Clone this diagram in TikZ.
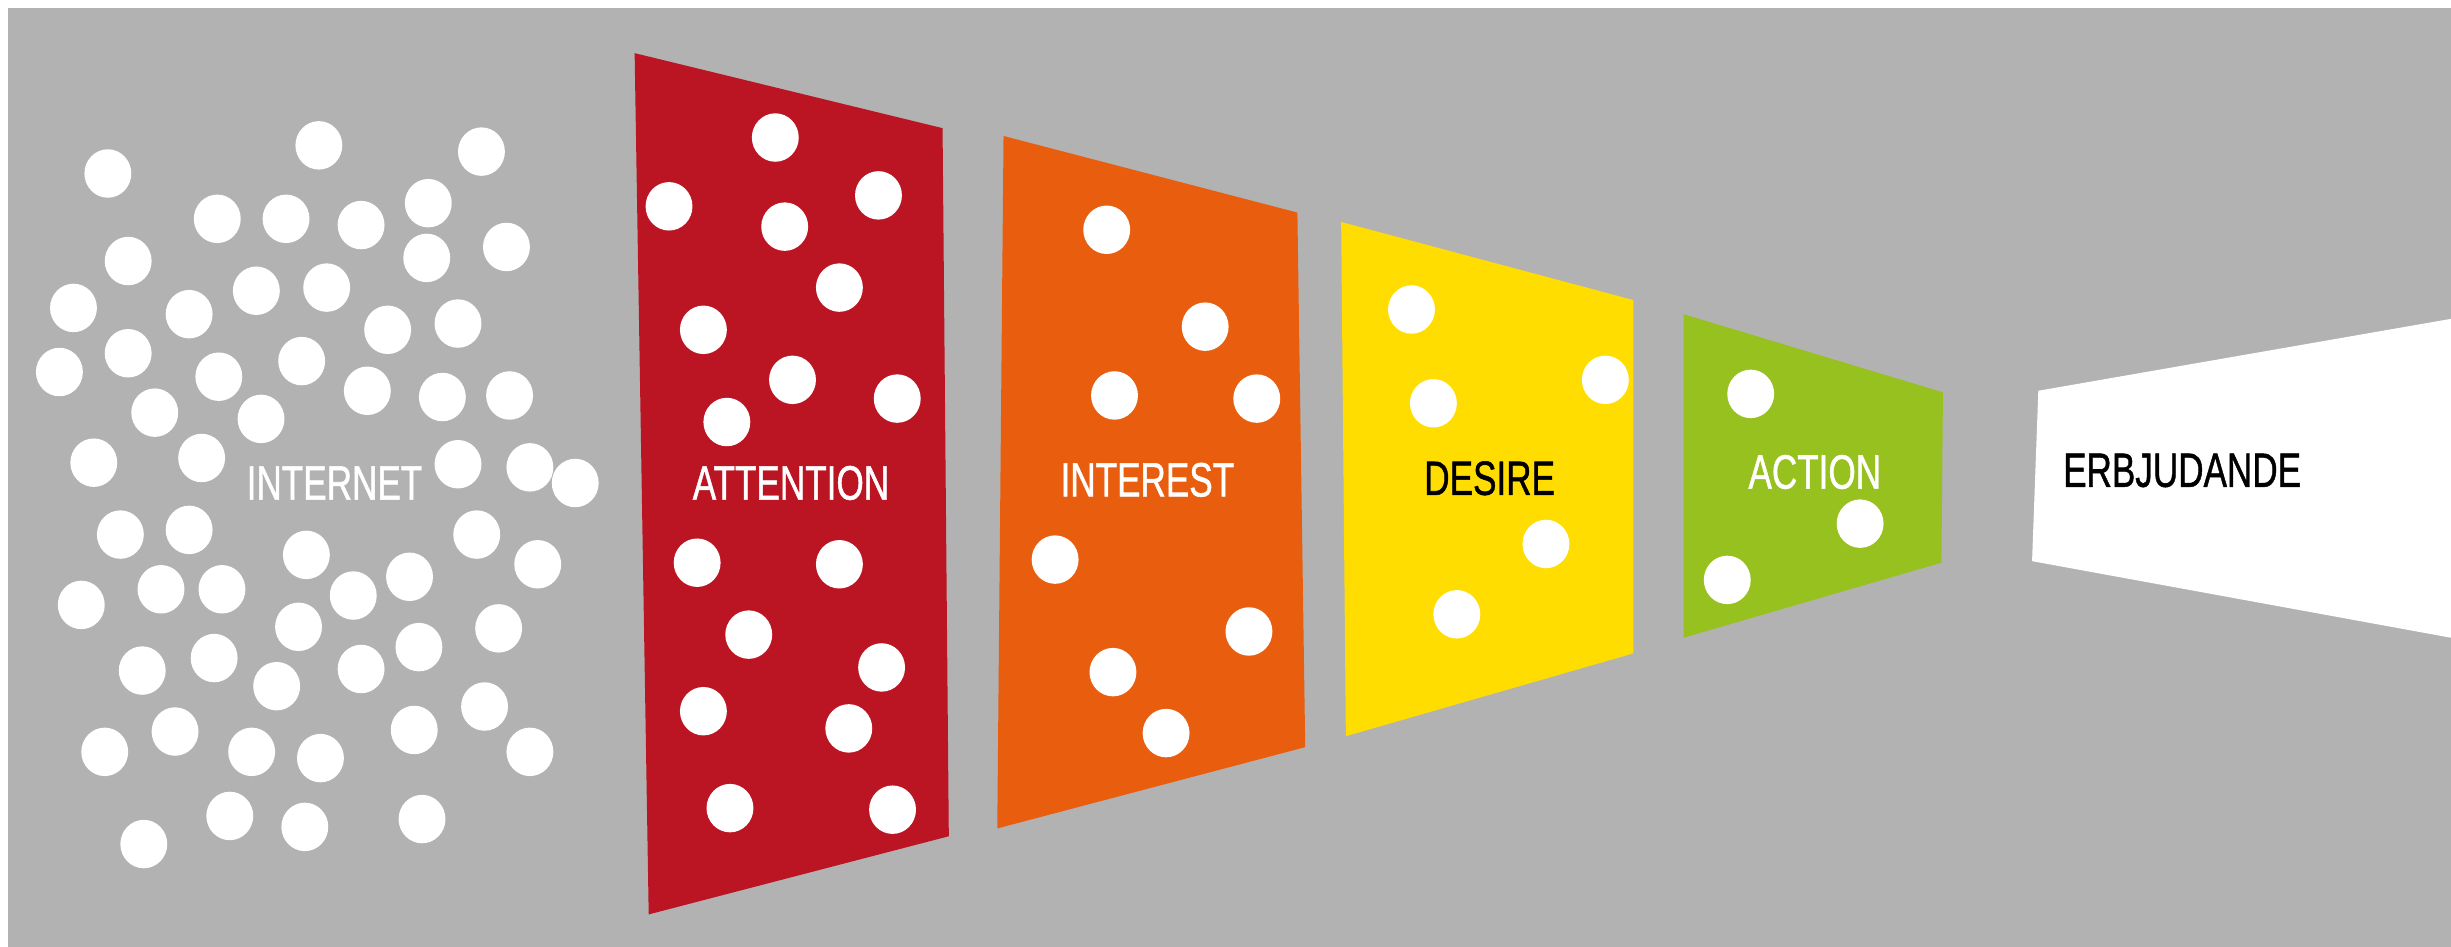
\documentclass[tikz,border=0pt]{standalone}
\usepackage{fontspec}
\setmainfont{Liberation Sans}
\newfontfamily\lblfont[FakeBold=1.2]{Liberation Sans}
\definecolor{funnelgray}{RGB}{178,178,178}
\definecolor{attnred}{RGB}{187,21,35}
\definecolor{intorange}{RGB}{233,94,14}
\definecolor{desyellow}{RGB}{255,221,0}
\definecolor{actgreen}{RGB}{151,193,31}
\begin{document}
\begin{tikzpicture}[
			x=0.01cm, y=-0.01cm,
			lbl/.style={font=\lblfont\fontsize{8.75}{10}\selectfont, inner sep=0pt},
			dot/.style={white}
			]
			
			\useasboundingbox (0,0) rectangle (1568,605.8);
			\fill[white] (0,0) rectangle (1568,605.8);
			\fill[funnelgray] (5,5) rectangle (1568,605.8);
			
			% funnel stages
			\fill[attnred] (406,34) -- (603,82) -- (607,535) -- (415,585) -- cycle;
			\fill[intorange] (642,87) -- (830,136) -- (835,478) -- (638,530) -- cycle;
			\fill[desyellow] (858,142) -- (1045,192) -- (1045,418) -- (861,471) -- cycle;
			\fill[actgreen] (1077,201) -- (1243,251) -- (1242,360) -- (1077,408) -- cycle;
			\fill[white] (1304,250) -- (1568,204) -- (1568,408) -- (1300,359) -- cycle;
			
			% internet dots
			\foreach \x/\y in {69/111, 204/93, 308/97, 139/140, 183/140, 231/144, 274/130, 324/158,
				82/167, 273/165, 47/197, 121/201, 164/186, 209/184, 248/211, 293/207,
				38/238, 82/226, 140/241, 193/231, 235/250, 283/254, 326/253, 99/264, 167/268,
				60/296, 129/293, 293/297, 339/299, 368/309, 77/342, 121/339, 196/355, 305/342, 344/361,
				52/387, 103/377, 142/377, 226/381, 262/369, 191/401, 319/402,
				91/429, 137/421, 177/439, 231/428, 268/414, 310/452,
				67/481, 112/468, 161/481, 205/485, 265/467, 339/481,
				92/540, 147/522, 195/529, 270/524}
				\fill[dot] (\x,\y) ellipse [x radius=15, y radius=15.5];
			
			% dots in the stages
			\foreach \x/\y in {496/88, 428/132, 502/145, 562/125, 537/184, 450/211, 507/243, 574/255, 465/270,
				446/360, 537/361, 479/406, 564/427, 450/455, 543/466, 467/517, 571/518,
				708/147, 771/209, 713/253, 804/255, 675/358, 799/404, 712/430, 746/469,
				903/198, 917/258, 1027/243, 989/348, 932/393,
				1120/252, 1190/335, 1105/371}
				\fill[dot] (\x,\y) ellipse [x radius=15, y radius=15.5];
			
			\node[lbl, text=white] (internet) at (214,309) {\scalebox{0.73}[1]{INTERNET}};
			\node[lbl, text=white] (attention) at (506,309) {\scalebox{0.73}[1]{ATTENTION}};
			\node[lbl, text=white] (interest) at (734,307) {\scalebox{0.73}[1]{INTEREST}};
			\node[lbl, text=black] (desire) at (953,306) {\scalebox{0.73}[1]{DESIRE}};
			\node[lbl, text=white] (action) at (1161,302) {\scalebox{0.73}[1]{ACTION}};
			\node[lbl, text=black] (erbjudande) at (1396,301) {\scalebox{0.73}[1]{ERBJUDANDE}};
			
		\end{tikzpicture}
\end{document}
